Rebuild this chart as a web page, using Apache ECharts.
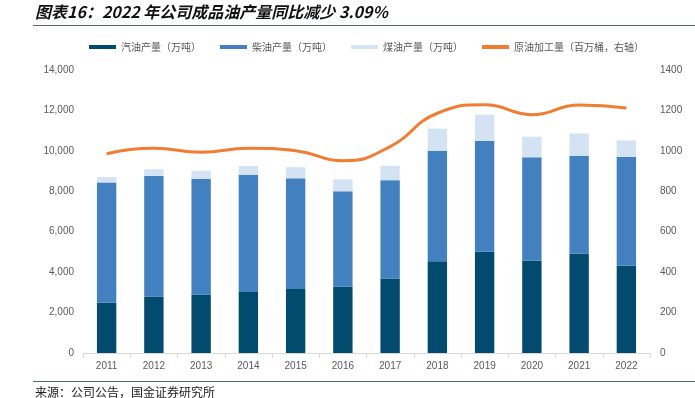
<!DOCTYPE html>
<html><head><meta charset="utf-8">
<script src="https://cdn.jsdelivr.net/npm/echarts@6/dist/echarts.min.js"></script>
<style>html,body{margin:0;padding:0;background:#fff}#c{width:695px;height:398px}</style>
</head><body><div id="c"></div>
<script>
const categories = ['2011','2012','2013','2014','2015','2016','2017','2018','2019','2020','2021','2022'];
const gasoline = [2490, 2790, 2900, 3020, 3170, 3280, 3690, 4540, 5010, 4580, 4910, 4320];
const diesel   = [5950, 5970, 5710, 5800, 5470, 4720, 4860, 5470, 5490, 5100, 4850, 5380];
const kerosene = [260, 330, 410, 430, 550, 590, 710, 1090, 1290, 1020, 1100, 820];
const crude    = [986, 1013, 993, 1013, 1001, 951, 1021, 1186, 1228, 1179, 1227, 1212];
const leftTicks = {min: 0, max: 14000, interval: 2000};
const rightTicks = {min: 0, max: 1400, interval: 200};
const names = ['汽油产量（万吨）','柴油产量（万吨）','煤油产量（万吨）','原油加工量（百万桶，右轴）'];

const chart = echarts.init(document.getElementById('c'), null, {renderer:'canvas'});
const num = {color:'#595959', fontSize:10, fontFamily:'"Liberation Sans", Arial, sans-serif'};
chart.setOption({
  animation:false,
  graphic:[
    {type:'text', left:35, top:4, style:{text:'图表16：2022 年公司成品油产量同比减少 3.09%', font:'italic bold 16px "Noto Sans CJK SC", sans-serif', fill:'#111'}},
    {type:'rect', shape:{x:33, y:25, width:662, height:1}, style:{fill:'#4a6a88'}},
    {type:'rect', shape:{x:33, y:381, width:662, height:1}, style:{fill:'#4a6a88'}},
    {type:'text', left:35, top:386, style:{text:'来源：公司公告，国金证券研究所', font:'12px "Noto Sans CJK SC", sans-serif', fill:'#222'}}
  ],
  legend:{
    top:42, left:89, padding:0, itemGap:19, itemWidth:27, itemHeight:4,
    textStyle:{color:'#595959', fontSize:10, fontFamily:'"Noto Sans CJK SC", sans-serif'},
    data:[
      {name:names[0], icon:'rect'},
      {name:names[1], icon:'rect'},
      {name:names[2], icon:'rect'},
      {name:names[3], icon:'rect', itemStyle:{color:'#ef7d32'}}
    ]
  },
  grid:{left:83, right:45, top:70, bottom:45},
  xAxis:{
    type:'category', data:categories, boundaryGap:true,
    axisLine:{lineStyle:{color:'#d9d9d9'}},
    axisTick:{show:true, lineStyle:{color:'#d9d9d9'}},
    axisLabel:Object.assign({}, num, {margin:8})
  },
  yAxis:[
    {type:'value', min:leftTicks.min, max:leftTicks.max, interval:leftTicks.interval,
     splitLine:{show:false}, axisLine:{show:false}, axisTick:{show:false},
     axisLabel:Object.assign({}, num, {margin:9, formatter:v=>v.toLocaleString('en-US')})},
    {type:'value', min:rightTicks.min, max:rightTicks.max, interval:rightTicks.interval,
     splitLine:{show:false}, axisLine:{show:false}, axisTick:{show:false},
     axisLabel:Object.assign({}, num, {margin:10, formatter:v=>String(v)})}
  ],
  series:[
    {name:names[0], type:'bar', stack:'a', data:gasoline, barWidth:'41%', itemStyle:{color:'#024a6e'}},
    {name:names[1], type:'bar', stack:'a', data:diesel, itemStyle:{color:'#4280bf'}},
    {name:names[2], type:'bar', stack:'a', data:kerosene, itemStyle:{color:'#d3e3f3'}},
    {name:names[3], type:'line', yAxisIndex:1, data:crude, smooth:true, symbol:'none',
     lineStyle:{color:'#ef7d32', width:3}, itemStyle:{color:'#ef7d32'}}
  ]
});
</script></body></html>
